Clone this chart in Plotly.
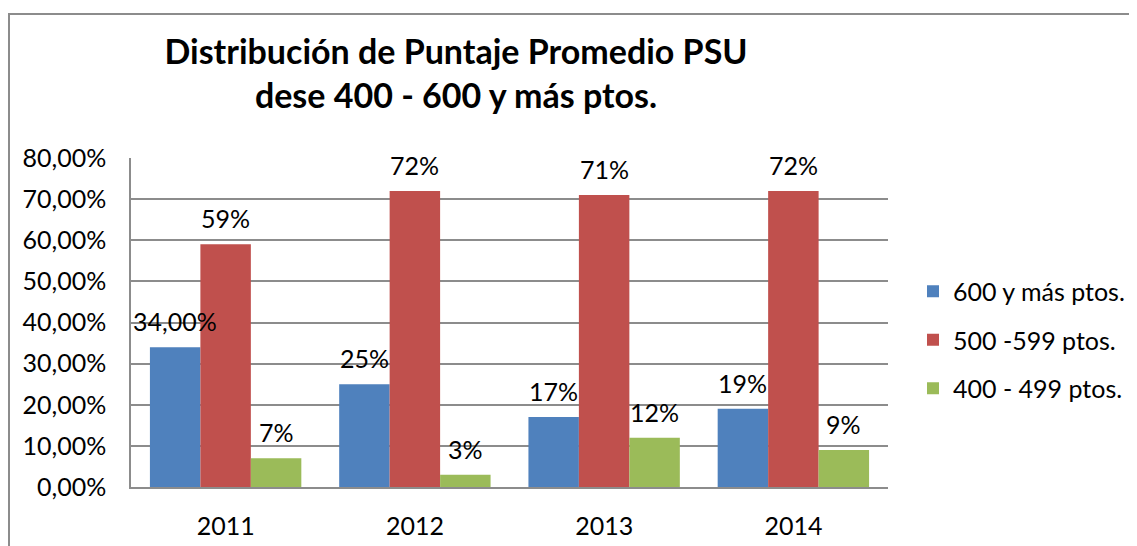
import plotly.graph_objects as go

years = ["2011", "2012", "2013", "2014"]
series_names = ["600 y más ptos.", "500 -599 ptos.", "400 - 499 ptos."]
v600 = [0.34, 0.25, 0.17, 0.19]
v500 = [0.59, 0.72, 0.71, 0.72]
v400 = [0.07, 0.03, 0.12, 0.09]
lab600 = ["34,00%", "25%", "17%", "19%"]
lab500 = ["59%", "72%", "71%", "72%"]
lab400 = ["7%", "3%", "12%", "9%"]
colors = ["#4F81BD", "#C0504D", "#9BBB59"]

FONT = "Lato"
FS = 25
W, H = 1137, 546
OFF = 8  # page body margin
# target plot area in viewport pixels: x 131..888, y 158..487
L, T = 131 - OFF, 158 - OFF
R = W - (888 - OFF)
B = H - (487 - OFF)

fig = go.Figure()
all_vals = [v600, v500, v400]
all_labs = [lab600, lab500, lab400]
for i, (name, vals) in enumerate(zip(series_names, all_vals)):
    fig.add_trace(go.Bar(
        x=years, y=vals, name=name, marker=dict(color=colors[i], line=dict(width=0)),
        legendgroup=f"g{i}",
    ))

pw = W - L - R
ph = H - T - B
barw = pw / 4 * 0.8 / 3
for i, (vals, labs) in enumerate(zip(all_vals, all_labs)):
    for j, (v, t) in enumerate(zip(vals, labs)):
        # category axis: annotation x given as the category's serial index
        fig.add_annotation(x=j, y=v, text=t, showarrow=False,
                           xshift=(i - 1) * barw, yshift=26,
                           font=dict(family=FONT, size=FS, color="#000000"))

# chart-area border (viewport x=9, y=14, running past right/bottom edges)
fig.add_shape(type="rect", xref="paper", yref="paper",
              x0=(9 - OFF - L) / pw, x1=(W + 30 - L) / pw,
              y0=-(H + 30 - (H - B)) / ph, y1=(H - B - (14 - OFF)) / ph,
              line=dict(color="#8C8C8C", width=2), layer="below")

fig.update_layout(
    width=W, height=H,
    margin=dict(l=L, r=R, t=T, b=B, autoexpand=False),
    paper_bgcolor="white", plot_bgcolor="white",
    separators=",.",
    barmode="group", bargap=0.2, bargroupgap=0,
    title=dict(text="<b>Distribución de Puntaje Promedio PSU<br>dese 400 - 600 y más ptos.</b>",
               xref="container", yref="container", x=(456 - OFF) / W, xanchor="center",
               y=1 - 56 / H, yanchor="middle",
               font=dict(family=FONT, size=34, color="#000000")),
    font=dict(family=FONT, size=FS, color="#000000"),
    legend=dict(x=(913 - OFF - L) / pw, xanchor="left",
                y=(H - B - (340 - OFF)) / ph, yanchor="middle",
                font=dict(family=FONT, size=FS, color="#000000"),
                tracegroupgap=13, bgcolor="rgba(0,0,0,0)"),
    showlegend=True,
)
fig.update_yaxes(range=[0, 0.8], dtick=0.1, tickformat=".2%",
                 showgrid=True, gridcolor="#8C8C8C", gridwidth=1.5,
                 showline=True, linecolor="#8C8C8C", linewidth=1.5,
                 zeroline=False, ticks="", ticklabelstandoff=18,
                 tickfont=dict(family=FONT, size=FS, color="#000000"))
fig.update_xaxes(type="category", range=[-0.5, len(years) - 0.5],
                 showline=True, linecolor="#8C8C8C", linewidth=1.5,
                 ticks="", ticklabelstandoff=16,
                 tickfont=dict(family=FONT, size=FS, color="#000000"))

fig.write_html("out.html")
